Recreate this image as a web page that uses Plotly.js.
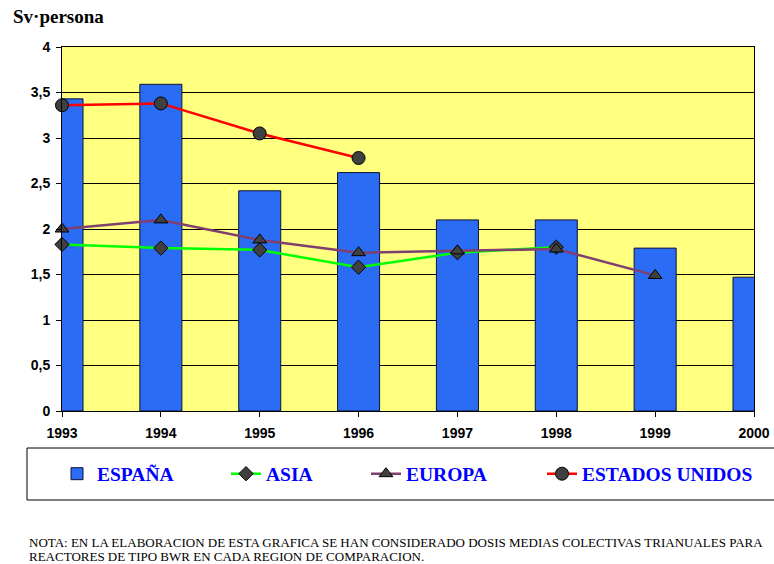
<!DOCTYPE html>
<html>
<head>
<meta charset="utf-8">
<script src="https://cdn.plot.ly/plotly-3.0.1.min.js"></script>
<style>html,body{margin:0;padding:0;background:#fff;}#chart{width:774px;height:564px;}</style>
</head>
<body>
<div id="chart"></div>
<script>
const years = ['1993','1994','1995','1996','1997','1998','1999','2000'];
const espana = [3.43, 3.59, 2.42, 2.62, 2.10, 2.10, 1.79, 1.47];
const asiaYears = ['1993','1994','1995','1996','1997','1998'];
const asia = [1.83, 1.79, 1.77, 1.58, 1.74, 1.80];
const europaYears = ['1993','1994','1995','1996','1997','1998','1999'];
const europa = [2.00, 2.10, 1.88, 1.74, 1.76, 1.78, 1.49];
const eeuuYears = ['1993','1994','1995','1996'];
const eeuu = [3.36, 3.38, 3.05, 2.78];
const yTicks = [0, 0.5, 1, 1.5, 2, 2.5, 3, 3.5, 4];

const W = 774, H = 564, ML = 62, MR = 20, MT = 47, MB = 153;
const PW = W - ML - MR, PH = H - MT - MB;
const px = v => (v - ML) / PW;
const py = v => (H - MB - v) / PH;

const markerLine = {color: '#000', width: 1};
const traces = [
  {type: 'bar', x: years, y: espana, name: 'ESPAÑA', width: 0.425,
   marker: {color: '#2B6CF4', line: {color: '#111133', width: 1}}, legend: 'legend'},
  {type: 'scatter', mode: 'lines+markers', x: asiaYears, y: asia, name: 'ASIA', cliponaxis: false,
   line: {color: '#00FF00', width: 2.5}, marker: {symbol: 'diamond', size: 11, color: '#404040', line: markerLine}, legend: 'legend2'},
  {type: 'scatter', mode: 'lines+markers', x: europaYears, y: europa, name: 'EUROPA', cliponaxis: false,
   line: {color: '#7F3F6F', width: 2.5}, marker: {symbol: 'triangle-up', size: 12, color: '#404040', line: markerLine}, legend: 'legend3'},
  {type: 'scatter', mode: 'lines+markers', x: eeuuYears, y: eeuu, name: 'ESTADOS UNIDOS', cliponaxis: false,
   line: {color: '#FF0000', width: 2.5}, marker: {symbol: 'circle', size: 13, color: '#404040', line: markerLine}, legend: 'legend4'}
];

const legFont = {family: 'Liberation Serif, Times New Roman, serif', size: 19.5, color: '#0000FF', weight: 'bold'};
const legY = py(474);
function leg(xpx) {
  return {orientation: 'h', x: px(xpx), xanchor: 'left', y: legY, yanchor: 'middle',
          bgcolor: 'rgba(0,0,0,0)', borderwidth: 0, font: legFont};
}

const layout = {
  width: W, height: H,
  margin: {l: ML, r: MR, t: MT, b: MB},
  paper_bgcolor: '#FFFFFF',
  plot_bgcolor: '#FFFF80',
  separators: ',.',
  showlegend: true,
  legend: leg(57), legend2: leg(226), legend3: leg(366), legend4: leg(542),
  xaxis: {type: 'category', range: [0, 7], showgrid: false, showline: true, linecolor: '#000', linewidth: 1,
          mirror: true, ticks: 'outside', ticklen: 5, tickcolor: '#000', ticklabelstandoff: 4,
          tickfont: {family: 'Liberation Sans, Arial, sans-serif', size: 14, color: '#000', weight: 'bold'}},
  yaxis: {range: [0, 4], tickvals: yTicks, showgrid: true, gridcolor: '#000', gridwidth: 1, zeroline: false,
          showline: true, linecolor: '#000', linewidth: 1, mirror: true, ticks: 'outside', ticklen: 5, tickcolor: '#000',
          ticklabelstandoff: 3,
          tickfont: {family: 'Liberation Sans, Arial, sans-serif', size: 14, color: '#000', weight: 'bold'}},
  shapes: [
    {type: 'rect', xref: 'paper', yref: 'paper', x0: px(27), x1: px(800), y0: py(500), y1: py(448),
     line: {color: '#000', width: 1}, fillcolor: 'rgba(0,0,0,0)'}
  ],
  annotations: [
    {text: 'Sv·persona', xref: 'paper', yref: 'paper', x: px(11), y: py(16), xanchor: 'left', yanchor: 'middle',
     showarrow: false, font: {family: 'Liberation Serif, Times New Roman, serif', size: 19, color: '#000', weight: 'bold'}},
    {text: 'NOTA: EN LA ELABORACION DE ESTA GRAFICA SE HAN CONSIDERADO DOSIS MEDIAS COLECTIVAS TRIANUALES PARA',
     xref: 'paper', yref: 'paper', x: px(27), y: py(542), xanchor: 'left', yanchor: 'middle', showarrow: false,
     font: {family: 'Liberation Serif, Times New Roman, serif', size: 13, color: '#000'}},
    {text: 'REACTORES DE TIPO BWR EN CADA REGION DE COMPARACION.',
     xref: 'paper', yref: 'paper', x: px(27), y: py(556), xanchor: 'left', yanchor: 'middle', showarrow: false,
     font: {family: 'Liberation Serif, Times New Roman, serif', size: 13, color: '#000'}}
  ]
};

Plotly.newPlot('chart', traces, layout, {displayModeBar: false, responsive: false});
</script>
</body>
</html>
